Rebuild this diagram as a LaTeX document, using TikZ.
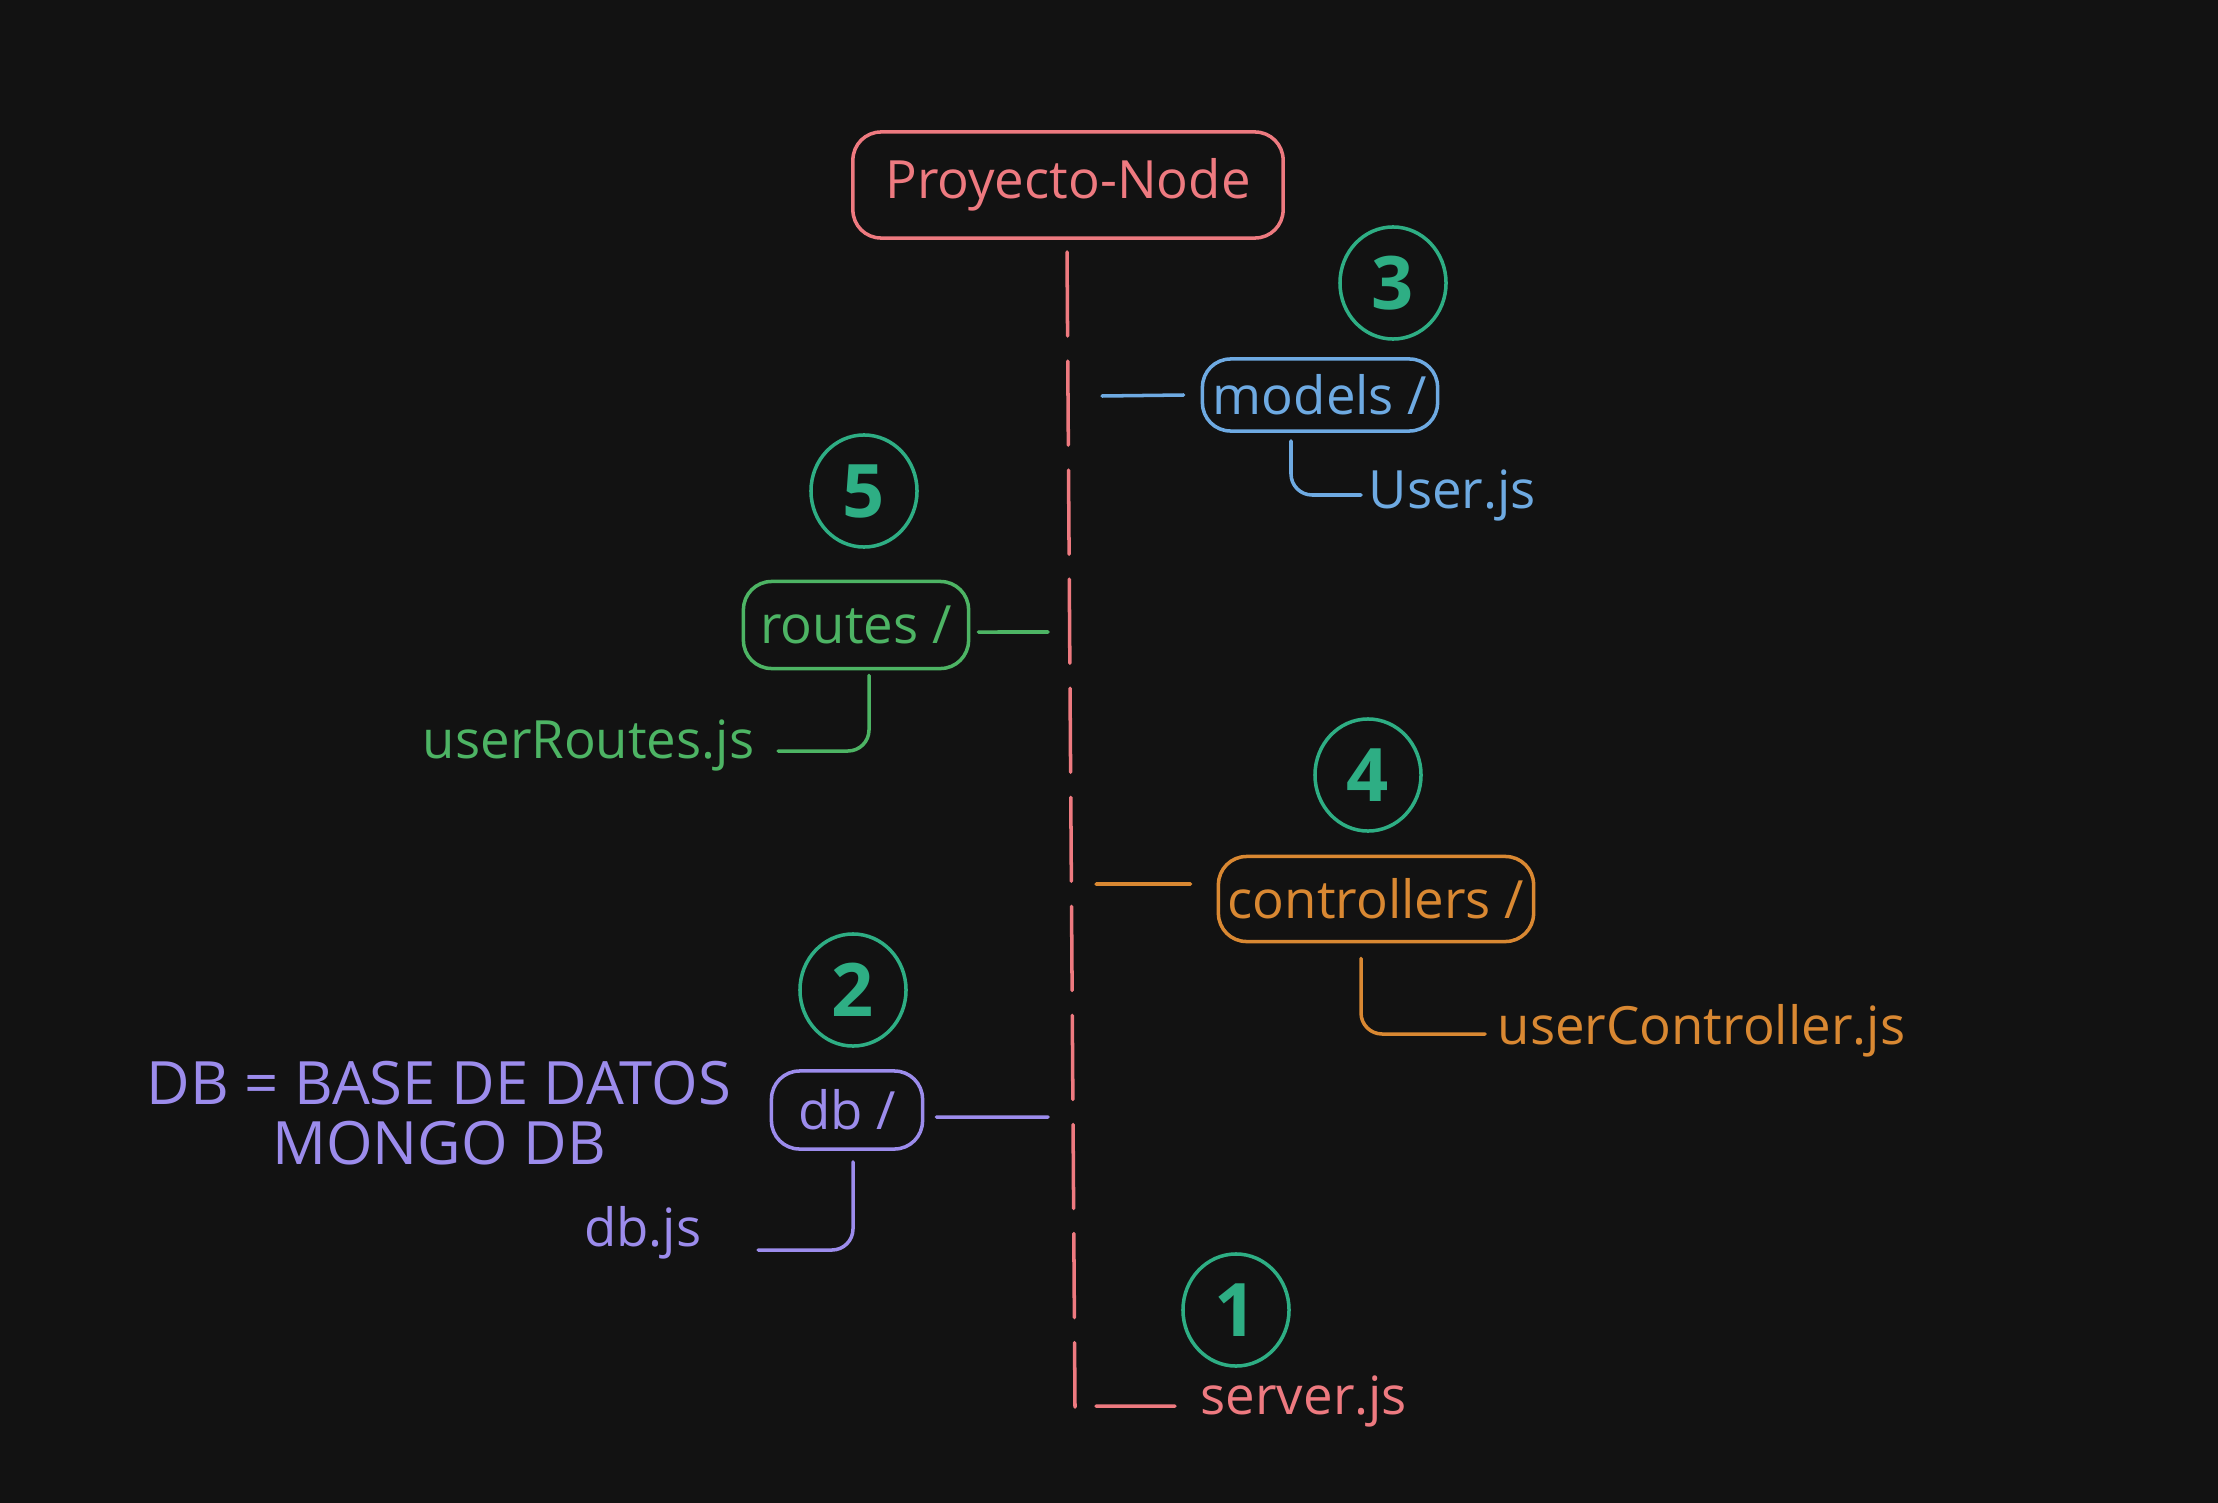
\documentclass[tikz,border=0pt]{standalone}
\usepackage{fontspec}
\setmainfont{Open Sans}
\usetikzlibrary{shapes.geometric}

\definecolor{bgdark}{HTML}{121212}
\definecolor{rootred}{HTML}{EE7A80}
\definecolor{modelblue}{HTML}{6EAAE2}
\definecolor{routegreen}{HTML}{4DB464}
\definecolor{ctrlorange}{HTML}{D98832}
\definecolor{dbpurple}{HTML}{9C8CEC}
\definecolor{stepteal}{HTML}{2EAE84}

\tikzset{
	folder/.style={draw, rounded corners=8pt, line width=1pt, inner sep=0pt, font=\fontsize{15}{18}\selectfont},
	filetext/.style={inner sep=0pt, font=\fontsize{15}{18}\selectfont},
	branch/.style={line width=1pt, line cap=round},
	stepmark/.style={ellipse, draw=stepteal, text=stepteal, line width=1pt, inner sep=0pt,
		minimum width=1.06cm, minimum height=1.12cm, font=\fontsize{21}{24}\selectfont\bfseries},
}

\begin{document}
\begin{tikzpicture}[x=0.01cm, y=-0.01cm]

		\fill[bgdark] (0,0) rectangle (2218,1503);
		\useasboundingbox (0,0) rectangle (2218,1503);

		\node[folder, draw=rootred, text=rootred, minimum width=4.30cm, minimum height=1.06cm] (proj) at (1068,185) {Proyecto-Node};
		\node[folder, draw=modelblue, text=modelblue, minimum width=2.35cm, minimum height=0.72cm] (models) at (1320,395) {models /};
		\node[folder, draw=routegreen, text=routegreen, minimum width=2.25cm, minimum height=0.87cm] (routes) at (856,625) {routes /};
		\node[folder, draw=ctrlorange, text=ctrlorange, minimum width=3.15cm, minimum height=0.85cm] (controllers) at (1376,899) {controllers /};
		\node[folder, draw=dbpurple, text=dbpurple, minimum width=1.51cm, minimum height=0.78cm] (db) at (847,1110) {db /};

		\node[filetext, text=modelblue, anchor=west] (userjs) at (1368,495) {User.js};
		\node[filetext, text=routegreen, anchor=east] (userroutes) at (755,745) {userRoutes.js};
		\node[filetext, text=ctrlorange, anchor=west] (userctrl) at (1497,1031) {userController.js};
		\node[filetext, text=dbpurple, anchor=east] (dbjs) at (702,1233) {db.js};
		\node[filetext, text=rootred, anchor=west] (serverjs) at (1200,1401) {server.js};
		\node[filetext, text=dbpurple, align=center, font=\fontsize{17}{17}\selectfont] (dbnote) at (439,1113) {DB = BASE DE DATOS\\MONGO DB};

		\node[stepmark] (s1) at (1236,1310) {1};
		\node[stepmark] (s2) at (853,990) {2};
		\node[stepmark] (s3) at (1393,283) {3};
		\node[stepmark] (s4) at (1368,775) {4};
		\node[stepmark] (s5) at (864,491) {5};

		\coordinate (ttop) at (1067,252);
		\coordinate (tbot) at (1075,1407);
		\coordinate (jm) at (1102,396);
		\coordinate (jr) at (1048,632);
		\coordinate (jc) at (1096,884);
		\coordinate (jd) at (1048,1117);
		\coordinate (js) at (1096,1406);

		\draw[branch, rootred, dash pattern=on 0.84cm off 0.25cm] (ttop) to (tbot);

		\draw[branch, modelblue] (jm) to ([xshift=-0.17cm]models.west);
		\draw[branch, routegreen] ([xshift=0.08cm,yshift=-0.07cm]routes.east) to (jr);
		\draw[branch, ctrlorange] (jc) to ([xshift=-0.26cm,yshift=0.15cm]controllers.west);
		\draw[branch, dbpurple] ([xshift=0.12cm,yshift=-0.07cm]db.east) to (jd);
		\draw[branch, rootred] (js) to ([xshift=-0.25cm,yshift=-0.05cm]serverjs.west);

		\draw[branch, modelblue, rounded corners=6pt] ([xshift=-0.29cm,yshift=-0.08cm]models.south) |- ([xshift=-0.07cm]userjs.west);
		\draw[branch, routegreen, rounded corners=6pt] ([xshift=0.13cm,yshift=-0.05cm]routes.south) |- ([xshift=0.23cm,yshift=-0.06cm]userroutes.east);
		\draw[branch, ctrlorange, rounded corners=6pt] ([xshift=-0.15cm,yshift=-0.15cm]controllers.south) |- ([xshift=-0.12cm,yshift=-0.03cm]userctrl.west);
		\draw[branch, dbpurple, rounded corners=6pt] ([xshift=0.06cm,yshift=-0.11cm]db.south) |- ([xshift=0.56cm,yshift=-0.17cm]dbjs.east);

	\end{tikzpicture}
\end{document}
